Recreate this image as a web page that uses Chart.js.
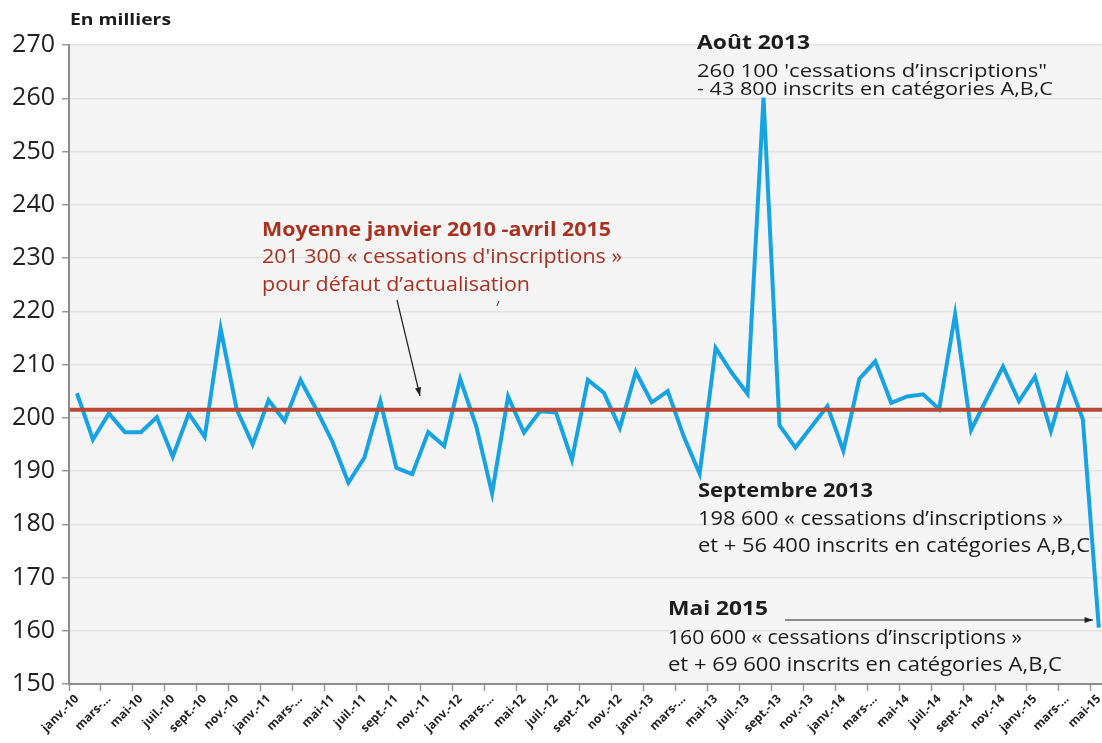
<!DOCTYPE html>
<html lang="fr">
<head>
<meta charset="utf-8">
<script src="https://cdn.jsdelivr.net/npm/chart.js@4.4.1/dist/chart.umd.min.js"></script>
<style>
  html, body { margin: 0; padding: 0; background: #fff; overflow: hidden; }
  #cadre { width: 1110px; height: 743px; }
</style>
</head>
<body>
<div id="cadre"><canvas id="graphique"></canvas></div>
<script>
// mois janvier 2010 -> mai 2015
const moisAbr = ["janv.", "févr.", "mars", "avr.", "mai", "juin", "juil.", "août", "sept.", "oct.", "nov.", "déc."];
const annees = ["10", "11", "12", "13", "14", "15"];

// etiquettes affichees (un mois sur deux)
const etiquettesX = [
  "janv.-10", "mars-...", "mai-10", "juil.-10", "sept.-10", "nov.-10",
  "janv.-11", "mars-...", "mai-11", "juil.-11", "sept.-11", "nov.-11",
  "janv.-12", "mars-...", "mai-12", "juil.-12", "sept.-12", "nov.-12",
  "janv.-13", "mars-...", "mai-13", "juil.-13", "sept.-13", "nov.-13",
  "janv.-14", "mars-...", "mai-14", "juil.-14", "sept.-14", "nov.-14",
  "janv.-15", "mars-...", "mai-15"
];

// cessations d'inscriptions pour défaut d'actualisation, en milliers
const cessations = [
  204.6, 195.9, 200.8, 197.3, 197.3, 200.1, 192.7, 200.8, 196.4, 216.7, 201.6, 195.0,
  203.3, 199.4, 207.1, 201.5, 195.5, 187.8, 192.5, 203.1, 190.6, 189.4, 197.3, 194.7,
  207.3, 198.5, 185.8, 204.0, 197.2, 201.2, 201.0, 192.1, 207.1, 204.7, 198.1, 208.6,
  202.9, 205.0, 196.5, 189.5, 213.1, 208.5, 204.5, 260.1, 198.6, 194.4, 198.3, 202.2,
  193.8, 207.3, 210.6, 202.8, 204.0, 204.4, 201.6, 219.4, 197.7, 203.7, 209.6, 203.1,
  207.7, 197.5, 207.8, 199.7, 160.6
];

const moyenne = 201.3;
const ticksY = [150, 160, 170, 180, 190, 200, 210, 220, 230, 240, 250, 260, 270];

const mois = [];
annees.forEach(function (a) {
  moisAbr.forEach(function (m) {
    if (mois.length < cessations.length) mois.push(m + "-" + a);
  });
});

const POLICE = '"Open Sans", sans-serif';

// texte ajusté a une largeur donnee (police d'origine plus etroite)
function texte(ctx, t, x, y, taille, gras, couleur, largeur) {
  ctx.save();
  ctx.font = (gras ? "bold " : "") + taille + "px " + POLICE;
  ctx.fillStyle = couleur;
  ctx.textBaseline = "middle";
  ctx.textAlign = "left";
  const w = ctx.measureText(t).width;
  ctx.translate(x, y);
  ctx.scale(largeur / w, 1);
  ctx.fillText(t, 0, 0);
  ctx.restore();
}

function fleche(ctx, x1, y1, x2, y2) {
  const ang = Math.atan2(y2 - y1, x2 - x1);
  ctx.save();
  ctx.strokeStyle = "#222";
  ctx.fillStyle = "#222";
  ctx.lineWidth = 1.2;
  ctx.beginPath();
  ctx.moveTo(x1, y1);
  ctx.lineTo(x2, y2);
  ctx.stroke();
  ctx.beginPath();
  ctx.moveTo(x2, y2);
  ctx.lineTo(x2 - 9 * Math.cos(ang - 0.35), y2 - 9 * Math.sin(ang - 0.35));
  ctx.lineTo(x2 - 9 * Math.cos(ang + 0.35), y2 - 9 * Math.sin(ang + 0.35));
  ctx.closePath();
  ctx.fill();
  ctx.restore();
}

const fond = {
  id: "fond",
  beforeDraw(chart) {
    const ctx = chart.ctx;
    const a = chart.chartArea;
    ctx.save();
    ctx.fillStyle = "#ffffff";
    ctx.fillRect(0, 0, chart.width, chart.height);
    ctx.fillStyle = "#f4f4f4";
    ctx.fillRect(a.left, a.top, a.right - a.left, a.bottom - a.top);
    ctx.restore();
  },
};

const ligneMoyenne = {
  id: "ligneMoyenne",
  afterDatasetsDraw(chart) {
    const ctx = chart.ctx;
    const a = chart.chartArea;
    const y = chart.scales.y.getPixelForValue(moyenne);
    ctx.save();
    ctx.strokeStyle = "#b84a35";
    ctx.lineWidth = 4;
    ctx.beginPath();
    ctx.moveTo(a.left + 1, y - 1);
    ctx.lineTo(a.right, y - 1);
    ctx.stroke();
    ctx.restore();
  },
};

const annotations = {
  id: "annotations",
  afterDraw(chart) {
    const ctx = chart.ctx;
    const rouge = "#a83222";
    const noir = "#1c1c1c";

    texte(ctx, "En milliers", 70, 20, 16, true, noir, 101);

    texte(ctx, "Moyenne janvier 2010 -avril 2015", 262, 230, 20, true, rouge, 349);
    texte(ctx, "201 300 « cessations d'inscriptions »", 262, 257, 20, false, rouge, 360);
    texte(ctx, "pour défaut d’actualisation", 262, 285, 20, false, rouge, 268);
    fleche(ctx, 397, 300, 420, 396);
    ctx.save();
    ctx.strokeStyle = "#333";
    ctx.lineWidth = 1;
    ctx.beginPath();
    ctx.moveTo(499, 301);
    ctx.lineTo(497, 306);
    ctx.stroke();
    ctx.restore();

    texte(ctx, "Août 2013", 697, 43, 20, true, noir, 113);
    texte(ctx, "260 100 'cessations d’inscriptions\"", 697, 72, 19, false, noir, 350);
    texte(ctx, "- 43 800 inscrits en catégories A,B,C", 697, 90, 19, false, noir, 356);

    texte(ctx, "Septembre 2013", 698, 491, 20, true, noir, 175);
    texte(ctx, "198 600 « cessations d’inscriptions »", 698, 519, 20, false, noir, 365);
    texte(ctx, "et + 56 400 inscrits en catégories A,B,C", 698, 546, 20, false, noir, 392);

    texte(ctx, "Mai 2015", 668, 609, 20, true, noir, 100);
    fleche(ctx, 785, 620, 1093, 620);
    texte(ctx, "160 600 « cessations d’inscriptions »", 668, 638, 20, false, noir, 354);
    texte(ctx, "et + 69 600 inscrits en catégories A,B,C", 668, 665, 20, false, noir, 394);
  },
};

const ctxGraphique = document.getElementById("graphique");

new Chart(ctxGraphique, {
  type: "line",
  data: {
    labels: mois,
    datasets: [
      {
        label: "Cessations d'inscriptions",
        data: cessations,
        borderColor: "#17a3e1",
        borderWidth: 4,
        pointRadius: 0,
        tension: 0,
        borderJoinStyle: "miter",
      },
    ],
  },
  options: {
    responsive: true,
    maintainAspectRatio: false,
    animation: false,
    layout: { padding: { top: 45, right: 1, left: 0, bottom: 0 } },
    plugins: {
      legend: { display: false },
      title: { display: false },
      tooltip: { enabled: false },
    },
    scales: {
      x: {
        type: "category",
        offset: true,
        afterFit(scale) { scale.height = 59; },
        border: { color: "#8c8c8c", width: 2 },
        grid: {
          offset: true,
          drawOnChartArea: false,
          tickLength: 7,
          tickColor: function (c) { return c.index % 2 === 0 ? "#9a9a9a" : "rgba(0,0,0,0)"; },
          tickWidth: 1.5,
        },
        ticks: {
          autoSkip: false,
          minRotation: 45,
          maxRotation: 45,
          padding: 1,
          color: "#222",
          font: { family: POLICE, size: 12, weight: "bold" },
          callback: function (v, i) { return i % 2 === 0 ? etiquettesX[i / 2] : ""; },
        },
      },
      y: {
        min: 150,
        max: 270,
        afterFit(scale) { scale.width = 69; },
        afterBuildTicks(scale) { scale.ticks = ticksY.map(function (v) { return { value: v }; }); },
        border: { color: "#8c8c8c", width: 2 },
        grid: {
          color: "#e2e2e2",
          lineWidth: 1.5,
          tickLength: 7,
          tickColor: "#9a9a9a",
        },
        ticks: {
          padding: 7,
          color: "#222",
          font: { family: POLICE, size: 25 },
        },
      },
    },
  },
  plugins: [fond, ligneMoyenne, annotations],
});
</script>
</body>
</html>
